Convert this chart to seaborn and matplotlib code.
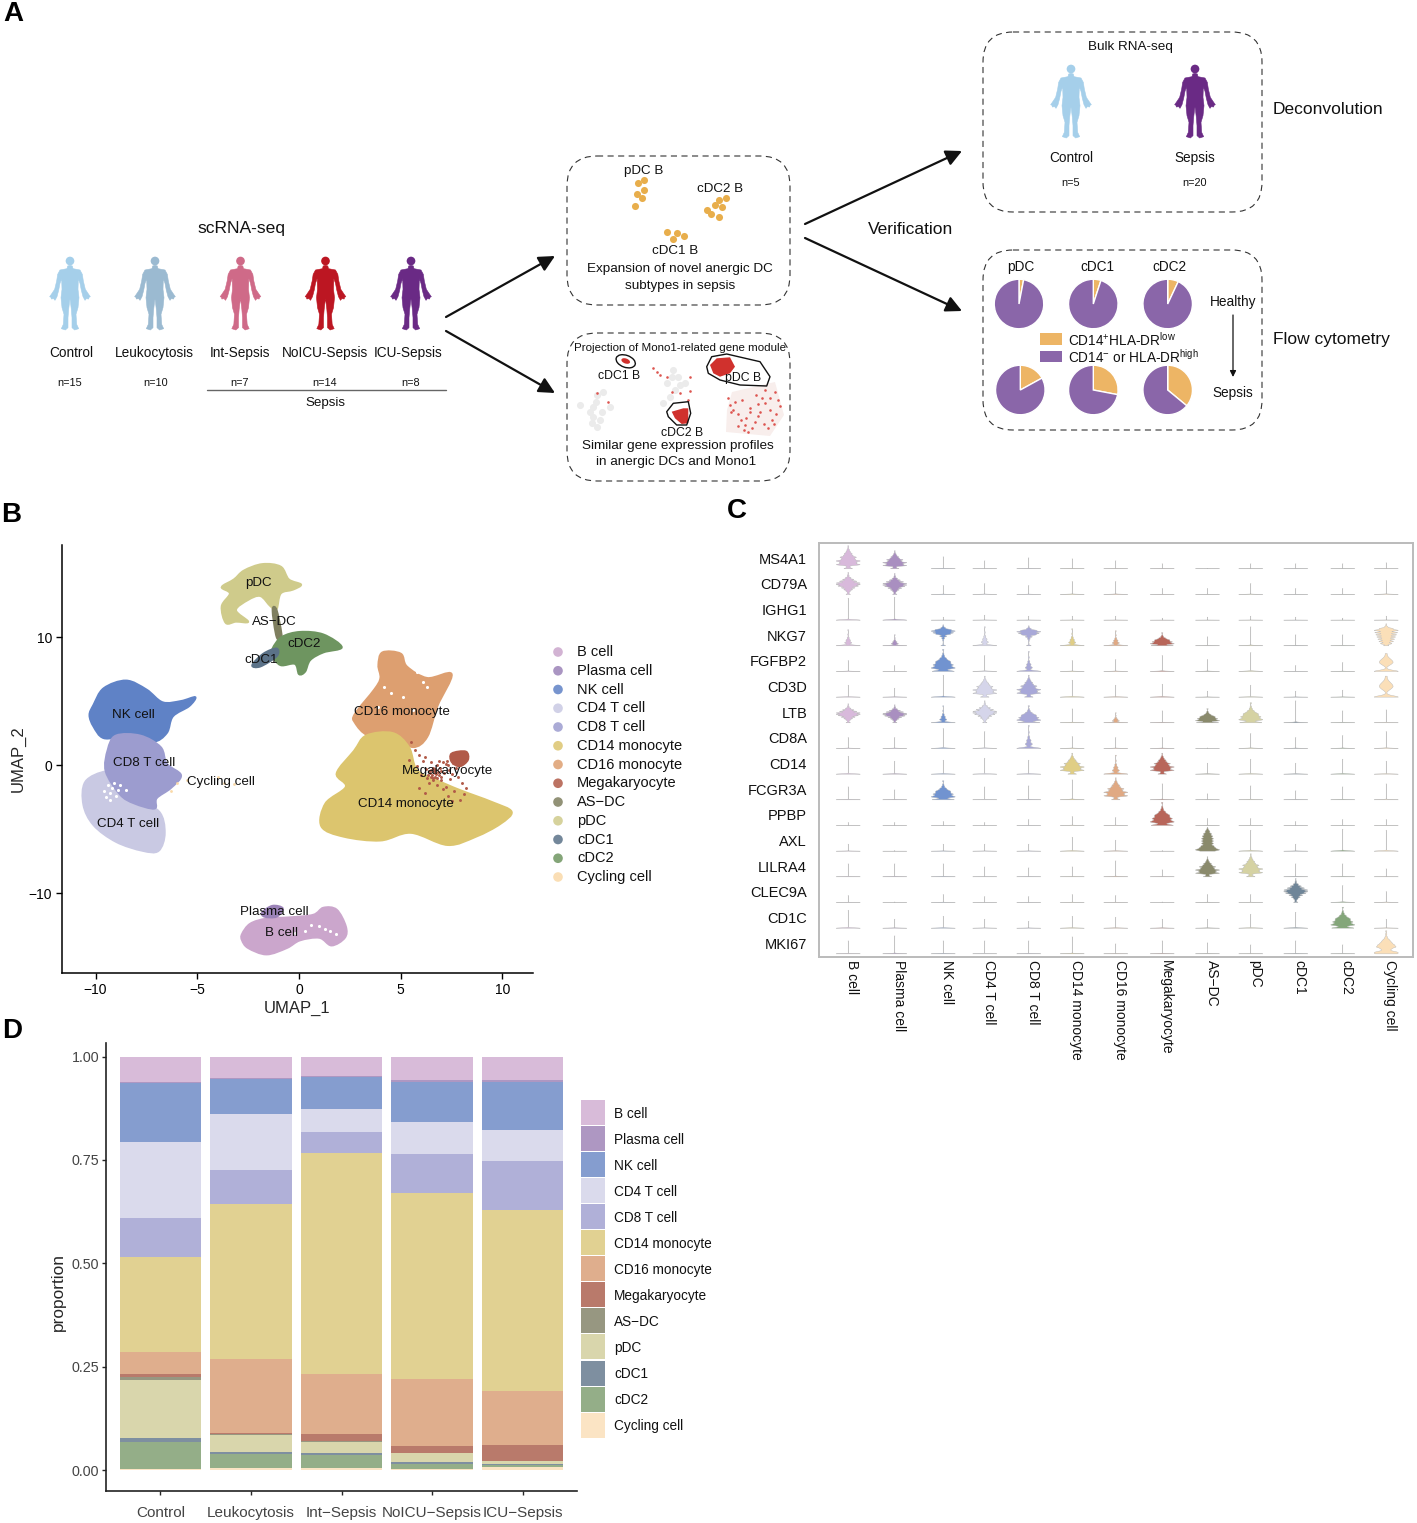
import numpy as np
import pandas as pd
import matplotlib
matplotlib.use("Agg")
import matplotlib.pyplot as plt
from matplotlib.patches import FancyBboxPatch, Polygon, Circle, Ellipse, Rectangle, PathPatch
from matplotlib.path import Path
import seaborn as sns

W, H = 1417, 1523

cell_types = ["B cell", "Plasma cell", "NK cell", "CD4 T cell", "CD8 T cell", "CD14 monocyte", "CD16 monocyte",
              "Megakaryocyte", "AS−DC", "pDC", "cDC1", "cDC2", "Cycling cell"]
umap_colors = ["#CBA6CC", "#9B83B8", "#5F82C6", "#C9C9E3", "#9C9CCF", "#DCC56E", "#DD9F70",
               "#B15A48", "#7F7F5F", "#CFCB8B", "#5B7288", "#6E9560", "#FAD9A8"]
violin_colors = ["#D8B9DB", "#A98FC0", "#7193D0", "#D5D5EA", "#A8A8D8", "#E0CE85", "#E0A983",
                 "#B8665A", "#8A8A6C", "#D5D2A3", "#6F8598", "#84A67A", "#FBDFB8"]
bar_colors = ["#D8BBD9", "#AE97C2", "#859DCF", "#DADAEC", "#B0B0D8", "#E1D192", "#DFAE8D",
              "#B97A6B", "#979781", "#D9D6AC", "#7E8FA0", "#94AE88", "#FBE4C4"]

# panel D, one list per group, same order as cell_types
groups = ["Control", "Leukocytosis", "Int−Sepsis", "NoICU−Sepsis", "ICU−Sepsis"]
prop_control = [.061, .002, .143, .185, .094, .230, .053, .008, .006, .140, .010, .065, .003]
prop_leuko = [.051, .003, .084, .136, .082, .375, .179, .004, .001, .042, .004, .033, .006]
prop_int = [.048, .002, .077, .055, .051, .535, .146, .016, .001, .028, .004, .032, .005]
prop_noicu = [.057, .005, .096, .078, .095, .449, .162, .017, .001, .021, .004, .012, .003]
prop_icu = [.056, .006, .115, .075, .119, .437, .132, .038, .001, .006, .002, .006, .007]

nk_xy = [(-10.1, 4.7), (-9.6, 6.0), (-8.5, 6.6), (-7.5, 5.9), (-6.7, 4.9), (-5.8, 5.0), (-5.1, 5.3), (-5.4, 4.6),
         (-6.2, 3.8), (-6.5, 2.5), (-7.2, 1.8), (-8.5, 2.2), (-9.6, 2.1), (-10.1, 3.0), (-10.3, 3.9)]
cd8_xy = [(-9.4, 1.2), (-9.0, 2.3), (-7.8, 2.3), (-6.8, 1.4), (-6.5, 0.1), (-5.8, -0.8), (-6.3, -1.8), (-7.0, -2.6),
          (-7.1, -3.4), (-8.1, -3.0), (-8.8, -2.3), (-9.5, -0.5)]
cd4_xy = [(-10.5, -1.3), (-9.5, -0.5), (-8.8, -0.9), (-8.2, -2.6), (-6.9, -3.6), (-6.6, -5.3), (-6.9, -6.7),
          (-7.7, -6.7), (-9.0, -6.0), (-10.1, -4.7), (-10.6, -3.1)]
pdc_xy = [(-3.8, 13.9), (-3.2, 14.5), (-2.7, 15.2), (-1.8, 15.7), (-0.9, 15.5), (-0.5, 14.5), (0.1, 14.1), (-0.3, 13.7),
          (-0.9, 13.4), (-1.1, 12.2), (-1.4, 12.4), (-1.9, 13.2), (-2.5, 12.9), (-3.1, 12.1), (-2.5, 11.2), (-3.1, 11.2),
          (-3.6, 11.1), (-3.8, 12.4), (-3.4, 13.4)]
asdc_xy = [(-1.3, 12.1), (-1.1, 12.1), (-0.85, 10.0), (-1.1, 10.0)]
cdc2_xy = [(-1.3, 9.1), (-0.85, 10.0), (0.05, 10.4), (1.2, 10.2), (2.1, 9.2), (1.2, 8.8), (0.55, 8.2), (0.3, 7.3),
           (0.0, 7.1), (-0.2, 7.9), (-0.9, 7.8), (-1.3, 8.5)]
cdc1_xy = [(-2.3, 7.8), (-1.75, 8.7), (-1.1, 9.1), (-1.1, 8.5), (-1.9, 7.7)]
cd16_xy = [(3.9, 7.8), (4.1, 8.8), (5.0, 8.7), (5.3, 7.7), (6.3, 6.8), (7.5, 7.1), (6.8, 4.6), (6.3, 2.2), (5.6, 1.4),
           (4.6, 2.2), (3.4, 2.3), (2.75, 3.3), (2.75, 4.0), (3.7, 5.9), (4.0, 6.8)]
cd14_xy = [(3.3, 2.3), (4.6, 2.5), (5.4, 1.4), (5.8, -0.4), (6.8, -1.2), (7.9, -1.95), (9.5, -2.9), (10.45, -3.65),
           (9.9, -4.6), (8.7, -5.6), (7.3, -6.25), (5.5, -5.3), (4.0, -5.9), (2.2, -5.6), (1.1, -4.8), (1.3, -3.0),
           (2.3, -1.7), (1.85, -0.65), (2.7, 1.1)]
mega_xy = [(7.5, 0.9), (8.2, 1.05), (8.3, 0.4), (7.9, -0.1), (7.5, 0.25)]
bcell_xy = [(-2.8, -13.2), (-2.4, -12.4), (-1.6, -12.0), (-0.45, -11.9), (0.7, -11.7), (1.2, -11.15), (1.85, -11.3),
            (2.3, -12.6), (2.25, -13.5), (1.6, -14.1), (1.0, -13.5), (0.05, -13.7), (-0.6, -14.3), (-1.6, -14.8),
            (-2.5, -14.3), (-2.8, -13.7)]
plasma_xy = [(-1.8, -11.5), (-1.3, -11.0), (-0.8, -11.2), (-1.1, -11.85), (-1.7, -11.85)]

mega_stray_x = [5.5, 5.7, 5.9, 5.4, 5.8, 6.1, 6.0, 6.3, 6.5, 6.7, 6.9, 6.4, 6.6, 6.8, 7.1, 7.3, 7.0, 7.5, 7.7, 7.2,
                6.9, 6.5, 6.2, 7.0, 7.4, 7.8, 8.0, 8.2, 7.6, 7.9, 6.6, 6.8, 7.0, 6.4, 6.7, 7.2, 7.5, 8.1, 5.9, 6.2,
                6.45, 6.55, 6.65, 6.75, 6.85, 6.5, 6.6, 6.7, 6.8, 6.95, 7.1, 7.3, 6.35, 6.25, 7.15, 7.35, 7.55, 7.25]
mega_stray_y = [1.8, 1.2, 0.8, 0.4, -0.1, 0.3, -0.8, -1.0, -0.4, -0.6, -0.8, -1.4, -1.2, -1.6, -1.9, -2.4, -0.5, -0.7,
                -0.2, 0.1, 0.3, 0.2, 0.6, -1.2, -1.1, -0.9, -1.4, -1.8, -2.0, -2.7, -0.2, 0.0, -0.9, -0.5, -0.9, -1.7,
                -2.8, -2.3, -1.8, -2.2,
                -0.6, -0.8, -0.5, -0.7, -0.55, -0.95, -1.0, -0.35, -1.05, -0.25, 0.2, 0.0, -0.75, -0.35, -0.65, -0.4,
                0.15, 0.35]
cycling_x = [-6.3, -6.0, -5.5, -4.0, -3.7, -3.2]
cycling_y = [-2.0, -1.4, -1.2, -0.9, -1.4, -1.5]
gap_x = [-9.6, -9.3, -9.1, -8.9, -9.3, -8.5, -9.0, -9.4, -9.2, -9.5, -8.8, 5.5, 5.8, 6.1, 6.3, 5.1, 4.5, 5.6, 3.9, 4.2,
         1.0, 1.3, 0.6, 1.5, 0.3, -0.2, 1.8]
gap_y = [-2.0, -2.2, -1.4, -1.95, -2.7, -1.95, -2.4, -1.6, -1.8, -2.5, -1.6, 7.7, 7.3, 6.5, 6.1, 5.3, 5.6, 4.3, 4.5, 6.1,
         -12.6, -12.8, -12.5, -13.0, -13.0, -13.1, -13.2]

umap_labels = ["pDC", "AS−DC", "cDC2", "cDC1", "NK cell", "CD8 T cell", "Cycling cell", "CD4 T cell",
               "CD16 monocyte", "Megakaryocyte", "CD14 monocyte", "Plasma cell", "B cell"]
umap_label_x = [-1.97, -1.23, 0.25, -1.87, -8.16, -7.6, -3.83, -8.4, 5.06, 7.32, 5.26, -1.23, -0.88]
umap_label_y = [14.2, 11.2, 9.45, 8.2, 3.9, 0.15, -1.33, -4.6, 4.14, -0.47, -3.05, -11.5, -13.1]

# panel C, spike height per gene and cell type, and which violin shape it has
genes = ["MS4A1", "CD79A", "IGHG1", "NKG7", "FGFBP2", "CD3D", "LTB", "CD8A", "CD14", "FCGR3A", "PPBP", "AXL",
         "LILRA4", "CLEC9A", "CD1C", "MKI67"]
heights = [
    [23, 18, 12, 8, 11, 10, 8, 5, .5, 5, 5, 5, 6],
    [22, 21, 9, 11, 9, 13, 13, 6, 6, 11, 6, 6, 14],
    [22, 23, 3, 5, 4, 4, 4, 2, 3, 4, 3, 2, 4],
    [16, 11, 21, 19, 20, 17, 15, 13, 9, 19, 11, 11, 22],
    [11, 6, 22, 16, 20, 11, 12, 16, 12, 19, 6, 9, 18],
    [12, 9, 22, 21, 22, 17, 12, 13, 6, 12, 6, 7, 21],
    [19, 18, 17, 22, 17, 14, 10, 12, 14, 20, 22, 12, 13],
    [11, 11, 20, 17, 23, 12, 11, 11, .5, 15, 11, 13, 17],
    [18, 13, 14, 16, 14, 21, 19, 21, 11, 15, 11, 15, 13],
    [13, 10, 19, 13, 14, 20, 22, 16, 6, 14, 9, 13, 16],
    [3, 3, 4, 3, 6, 9, 8, 23, 7, 7, 4, 6, 6],
    [7, .5, 7, 7, 7, 14, 11, .5, 24, 21, 7, 22, 21],
    [13, 13, 13, 10, 9, 10, 16, 7, 20, 23, 13, 13, 8],
    [7, .5, 8, 6, 6, 8, 7, .5, 8, 8, 24, 17, 11],
    [18, 9, 12, 9, 7, 12, 11, 9, 9, 14, 16, 21, 9],
    [13, 18, 13, 13, 13, 17, 10, 13, 11, 9, 13, 9, 23],
]
shapes = [
    "TTsssssssssss",
    "DDsssssssssss",
    "sssssssssssss",
    "nnHnHnntssssP",
    "sstsnsssssssd",
    "sssTTsssssssd",
    "DDnDtsnsttsss",
    "ssssnssssssss",
    "sssssTnTsssss",
    "sstsssTssssss",
    "ssssssstsssss",
    "ssssssssBssss",
    "ssssssssTTsss",
    "ssssssssssDss",
    "sssssssssssts",
    "ssssssssssssX",
]
profiles = {
    "s": [(0, 80), (1, 1)],
    "n": [(0, 25), (.14, 3), (.2, 6), (.28, 2), (.35, 4), (.42, 1), (.5, 2), (.7, 1), (1, 1)],
    "t": [(0, 14), (.07, 3), (.15, 14), (.22, 9), (.3, 12), (.38, 8), (.45, 8), (.52, 5), (.6, 4), (.7, 2), (.8, 1), (1, 1)],
    "T": [(0, 10), (.08, 4), (.18, 28), (.26, 20), (.34, 28), (.42, 16), (.5, 19), (.58, 11), (.66, 9), (.74, 5), (.82, 3),
          (.9, 1), (1, 1)],
    "D": [(0, 7), (.08, 3), (.15, 7), (.22, 14), (.3, 22), (.38, 32), (.45, 38), (.52, 38), (.6, 28), (.68, 18), (.76, 9),
          (.85, 3), (.92, 1), (1, 1)],
    "H": [(0, 8), (.12, 1), (.25, 2), (.35, 5), (.45, 12), (.55, 24), (.62, 34), (.7, 40), (.77, 26), (.85, 8), (.92, 2), (1, 1)],
    "P": [(0, 10), (.1, 22), (.2, 28), (.3, 32), (.4, 36), (.5, 40), (.6, 44), (.7, 46), (.78, 26), (.86, 6), (.93, 1), (1, 1)],
    "B": [(0, 16), (.06, 36), (.14, 24), (.22, 20), (.32, 20), (.42, 20), (.52, 20), (.62, 18), (.72, 14), (.82, 8), (.9, 3), (1, 1)],
    "X": [(0, 14), (.07, 14), (.14, 5), (.22, 7), (.3, 13), (.38, 11), (.46, 8), (.54, 6), (.62, 4), (.72, 2), (.85, 1), (1, 1)],
    "d": [(0, 16), (.1, 2), (.3, 2), (.4, 5), (.5, 7), (.6, 6), (.7, 4), (.8, 2), (.9, 1), (1, 1)],
}

# panel A
pie_labels = ["pDC", "cDC1", "cDC2"]
pie_healthy = [.03, .05, .07]
pie_sepsis = [.17, .28, .36]
dc_pdc_x = [644, 638.3, 644, 636.7, 642, 634.7]
dc_pdc_y = [180, 182.7, 190, 194.3, 198.3, 206]
dc_cdc2_x = [726, 718.7, 715, 722.3, 707.3, 711.3, 718.7]
dc_cdc2_y = [198.3, 200, 205, 207.3, 210, 214.3, 216.7]
dc_cdc1_x = [667.3, 676.7, 684, 673]
dc_cdc1_y = [232.3, 233.3, 236, 239.3]
proj_grey_x = [580, 593, 593, 592, 597, 600, 610, 603, 597, 590, 596, 602, 673, 667, 675, 670, 663, 678, 685, 672, 680]
proj_grey_y = [405, 407, 417, 423, 427, 420, 407, 392, 395, 412, 402, 412, 370, 383, 390, 397, 403, 377, 383, 377, 385]
proj_red_x = [730, 733, 738, 742, 746, 750, 755, 760, 765, 770, 775, 778, 745, 752, 758, 764, 770, 776, 735, 741, 748,
              756, 762, 768, 774, 780, 738, 744, 750, 772, 765, 758, 728, 731, 657, 660, 667, 672, 680, 690, 597, 608,
              653, 690, 688]
proj_red_y = [405, 410, 414, 400, 418, 408, 422, 412, 403, 398, 392, 400, 425, 428, 416, 424, 410, 414, 402, 420, 432,
              395, 398, 428, 424, 406, 426, 430, 412, 420, 390, 404, 398, 412, 372, 375, 377, 392, 393, 377, 393, 402,
              368, 391, 400]

sns.set_theme(style="ticks")
plt.rcParams["font.family"] = ["Liberation Sans", "DejaVu Sans"]
plt.rcParams["mathtext.default"] = "regular"
plt.rcParams["mathtext.fontset"] = "custom"
plt.rcParams["mathtext.rm"] = "Liberation Sans"

fig = plt.figure(figsize=(W / 100, H / 100), dpi=100, facecolor="white")


def px_ax(left, top, right, bottom, **kwargs):
    return fig.add_axes([left / W, 1 - bottom / H, (right - left) / W, (bottom - top) / H], **kwargs)


# whole-figure layer in pixels for the schematic and the loose text
art = px_ax(0, 0, W, H, zorder=5)
art.set_xlim(0, W)
art.set_ylim(H, 0)
art.axis("off")
art.patch.set_alpha(0)


def person(cx, top, color, scale=1 / 3):
    side = [(0, 28), (7, 30), (9, 38), (30, 42), (37, 55), (40, 75), (46, 100), (56, 115), (61, 122), (57, 124),
            (56, 129), (49, 128), (45, 133), (39, 122), (34, 103), (30, 82), (25, 68), (24, 100), (27, 125), (24, 155),
            (18, 175), (20, 205), (26, 218), (14, 222), (6, 215), (6, 185), (4, 160), (1, 135), (0, 130)]
    right = [(cx + a * scale, top + b * scale) for a, b in side]
    left = [(cx - a * scale, top + b * scale) for a, b in reversed(side)]
    art.add_patch(Polygon(right + left, closed=True, fc=color, ec=color, lw=0.4, joinstyle="round"))
    art.add_patch(Circle((cx, top + 15 * scale), 13 * scale, fc=color, ec="none"))


def box(left, top, right, bottom):
    art.add_patch(FancyBboxPatch((left + 30, top + 30), right - left - 60, bottom - top - 60,
                                 boxstyle="round,pad=30,rounding_size=30", fc="none", ec="#333333",
                                 lw=0.8, ls=(0, (5.5, 4))))


def label(x, y, s, size=9.8, **kwargs):
    kwargs.setdefault("ha", "center")
    kwargs.setdefault("va", "center")
    art.text(x, y + 1, s, fontsize=size, color=kwargs.pop("color", "#111111"), **kwargs)


def arrow(x0, y0, x1, y1, lw=1.6, scale=24):
    art.annotate("", xy=(x1, y1), xytext=(x0, y0),
                 arrowprops=dict(arrowstyle="-|>", lw=lw, color="#111111", mutation_scale=scale,
                                 shrinkA=0, shrinkB=0))


def blob(ax, outline, color):
    # closed smooth curve going through the outline points
    pts = np.array(outline)
    before, after = np.roll(pts, 1, axis=0), np.roll(pts, -1, axis=0)
    ctrl_out = pts + (after - before) / 6
    ctrl_in = pts - (after - before) / 6
    verts = [pts[0]]
    codes = [Path.MOVETO]
    for i in range(len(pts)):
        j = (i + 1) % len(pts)
        verts += [ctrl_out[i], ctrl_in[j], pts[j]]
        codes += [Path.CURVE4] * 3
    ax.add_patch(PathPatch(Path(verts, codes), fc=color, ec=color, lw=1.4))


# ---- panel A
for s, x, y in [("A", 13, 13), ("B", 11, 514), ("C", 737, 510), ("D", 12, 1030)]:
    label(x, y, s, size=20, fontweight="bold", color="black")

people = [(70, "#A5CFEA", "Control", 71, "n=15", 70), (155, "#9BBAD1", "Leukocytosis", 154, "n=10", 156),
          (240.5, "#CF6A88", "Int-Sepsis", 240, "n=7", 240), (325.5, "#BC1622", "NoICU-Sepsis", 325, "n=14", 325),
          (411, "#6A2A85", "ICU-Sepsis", 408, "n=8", 411)]
for cx, color, name, name_x, n, n_x in people:
    person(cx, 256, color)
    label(name_x, 352, name, size=9.8)
    label(n_x, 382, n, size=7.8)
label(241, 227, "scRNA-seq", size=12.6)
art.plot([207, 446], [390, 390], color="#666666", lw=1)
label(325, 402, "Sepsis", size=9.6)

arrow(446, 317, 555, 256)
arrow(446, 331, 555, 393)
arrow(805, 224, 962, 151)
arrow(805, 238, 962, 311)
label(911, 228, "Verification", size=12.5)

box(567, 156, 790, 305)
for xs, ys in [(dc_pdc_x, dc_pdc_y), (dc_cdc2_x, dc_cdc2_y), (dc_cdc1_x, dc_cdc1_y)]:
    sns.scatterplot(x=xs, y=ys, color="#E8AE4C", s=26, linewidth=0, ax=art, legend=False)
label(643.5, 170, "pDC B", size=9.6)
label(720, 188, "cDC2 B", size=9.6)
label(675, 250, "cDC1 B", size=9.6)
label(680, 268, "Expansion of novel anergic DC", size=9.7)
label(680, 285, "subtypes in sepsis", size=9.7)

box(567, 333, 790, 481)
label(680, 347, "Projection of Mono1-related gene module", size=8.25)
art.add_patch(Polygon([(732, 392), (775, 382), (784, 415), (770, 436), (726, 432), (727, 410)], fc="#F8EEEC", ec="none"))
sns.scatterplot(x=proj_grey_x, y=proj_grey_y, color="#EBEBEB", s=26, linewidth=0, ax=art, legend=False)
sns.scatterplot(x=proj_red_x, y=proj_red_y, color="#DD5550", s=3.5, linewidth=0, ax=art, legend=False)
art.add_patch(Polygon([(710, 365), (716.7, 358.3), (730, 357.3), (735, 366.7), (730, 373.3), (720, 376.7), (713.3, 373.3)],
                      fc="#D0312D", ec="none"))
art.add_patch(Polygon([(671.7, 411.7), (683.3, 408.3), (688.3, 408.3), (688.3, 423.3), (681.7, 424), (675, 418.3)],
                      fc="#D0312D", ec="none"))
art.add_patch(Polygon([(706.7, 366.7), (711.7, 356.7), (726.7, 354), (760, 361.7), (770, 376.7), (766.7, 386), (740, 385),
                       (720, 380), (708.3, 373.3)], fc="none", ec="#111111", lw=1, joinstyle="round"))
art.add_patch(Polygon([(666.7, 411.7), (673.3, 403.3), (688.3, 401.7), (690.7, 413.3), (686.7, 425), (676.7, 425),
                       (668.3, 416.7)], fc="none", ec="#111111", lw=1, joinstyle="round"))
art.add_patch(Ellipse((625.7, 361.3), 20, 12, angle=20, fc="none", ec="#111111", lw=1))
art.add_patch(Ellipse((625.7, 361), 9, 5, angle=20, fc="#D0312D", ec="none"))
label(619, 375, "cDC1 B", size=8.8)
label(743, 377, "pDC B", size=8.8)
label(682, 432, "cDC2 B", size=8.8)
label(678, 445, "Similar gene expression profiles", size=9.7)
label(676, 461, "in anergic DCs and Mono1", size=9.7)

box(983, 32, 1262, 212)
label(1130, 46, "Bulk RNA-seq", size=9.7)
person(1071, 64, "#A5CFEA")
person(1195, 64, "#6A2A85")
label(1071, 157, "Control", size=9.8)
label(1195, 157, "Sepsis", size=9.8)
label(1071, 182, "n=5", size=7.8)
label(1195, 182, "n=20", size=7.8)
label(1328, 108, "Deconvolution", size=12.5)

box(983, 250, 1262, 430)
for name, x in zip(pie_labels, [1021, 1097, 1169]):
    label(x, 266, name, size=9.8)
pie_colors = ["#EDB565", "#8A66A9"]
for frac, cx in zip(pie_healthy, [1019, 1093.3, 1167.7]):
    pax = px_ax(cx - 25, 279, cx + 25, 329, zorder=6)
    pax.pie([frac, 1 - frac], colors=pie_colors, startangle=90, counterclock=False)
    pax.set_xlim(-1.01, 1.01)
    pax.set_ylim(-1.01, 1.01)
for frac, cx in zip(pie_sepsis, [1020.3, 1093.3, 1167.7]):
    pax = px_ax(cx - 25, 365, cx + 25, 415, zorder=6)
    pax.pie([frac, 1 - frac], colors=pie_colors, startangle=90, counterclock=False)
    pax.set_xlim(-1.01, 1.01)
    pax.set_ylim(-1.01, 1.01)
art.add_patch(Rectangle((1040, 333.3), 21.7, 11.7, fc=pie_colors[0], ec="none"))
art.add_patch(Rectangle((1040, 350.7), 21.7, 11.3, fc=pie_colors[1], ec="none"))
label(1068, 339, "CD14$^{+}$HLA-DR$^{low}$", size=9.8, ha="left")
label(1068, 356, "CD14$^{-}$ or HLA-DR$^{high}$", size=9.8, ha="left")
label(1233, 301, "Healthy", size=9.8)
label(1233, 392, "Sepsis", size=9.8)
arrow(1233, 315, 1233, 377, lw=0.9, scale=9)
label(1331, 338, "Flow cytometry", size=12.5)

# ---- panel B
umap = px_ax(62, 545, 533, 973)
umap.set_xlim(-11.65, 11.5)
umap.set_ylim(-16.25, 17.19)
draw_order = [(cd4_xy, 3), (nk_xy, 2), (cd8_xy, 4), (pdc_xy, 9), (asdc_xy, 8), (cdc2_xy, 11), (cdc1_xy, 10),
              (cd16_xy, 6), (cd14_xy, 5), (mega_xy, 7), (bcell_xy, 0), (plasma_xy, 1)]
for outline, idx in draw_order:
    blob(umap, outline, umap_colors[idx])
sns.scatterplot(x=gap_x, y=gap_y, color="white", s=5, linewidth=0, ax=umap, legend=False)
sns.scatterplot(x=mega_stray_x, y=mega_stray_y, color=umap_colors[7], s=4.5, linewidth=0, ax=umap, legend=False)
sns.scatterplot(x=cycling_x, y=cycling_y, color=umap_colors[12], s=4, linewidth=0, ax=umap, legend=False)
for s, x, y in zip(umap_labels, umap_label_x, umap_label_y):
    umap.text(x, y, s, ha="center", va="center", fontsize=9.6, color="#111111", zorder=10)
umap.set_xticks([-10, -5, 0, 5, 10])
umap.set_xticklabels(["−10", "−5", "0", "5", "10"])
umap.set_yticks([-10, 0, 10])
umap.set_yticklabels(["−10", "0", "10"])
umap.tick_params(labelsize=10, length=4, width=1, colors="black", pad=3)
umap.set_xlabel("UMAP_1", fontsize=12, labelpad=3)
umap.set_ylabel("UMAP_2", fontsize=12, labelpad=2)
umap.set(facecolor="none")
sns.despine(ax=umap)
for side in ["left", "bottom"]:
    umap.spines[side].set_linewidth(1.1)
    umap.spines[side].set_color("black")

sns.scatterplot(x=[558] * 13, y=[652 + 18.75 * i for i in range(13)], hue=cell_types, hue_order=cell_types,
                palette=dict(zip(cell_types, umap_colors)), s=48, linewidth=0, ax=art, legend=False, alpha=.85)
art.set_xlim(0, W)
art.set_ylim(H, 0)
for i, s in enumerate(cell_types):
    label(577, 651 + 18.75 * i, s, size=10.5, ha="left")

# ---- panel C
col_x = [847.7, 894.3, 942.7, 984.3, 1028.3, 1071.7, 1115.3, 1161.7, 1207, 1250.3, 1295.3, 1342.3, 1385.7]
frame = px_ax(819, 542.7, 1413, 956.7)
frame.set_xlim(819, 1413)
frame.set_ylim(956.7, 542.7)
frame.set_xticks([c + 4.5 for c in col_x])
frame.set_xticklabels(cell_types, rotation=-90, fontsize=10, color="#111111", ha="center", va="top")
frame.set_yticks([558 + 25.67 * i for i in range(16)])
frame.set_yticklabels(genes, fontsize=10.5, color="#111111")
frame.tick_params(length=0, axis="y", pad=8.6)
frame.tick_params(length=0, axis="x", pad=2.5)
for sp in frame.spines.values():
    sp.set_color("#BBBBBB")
    sp.set_linewidth(1.4)

for r, gene in enumerate(genes):
    rows = []
    for c, cell in enumerate(cell_types):
        for level, count in profiles[shapes[r][c]]:
            rows += [(col_x[c], cell, level * heights[r][c])] * count
    df = pd.DataFrame(rows, columns=["pos", "cell", "value"])
    base = 568.3 + 25.67 * r
    vax = px_ax(819, base - 25.67, 1413, base + 1, zorder=3)
    vax.patch.set_alpha(0)
    sns.violinplot(data=df, x="pos", y="value", hue="cell", hue_order=cell_types,
                   palette=dict(zip(cell_types, violin_colors)), native_scale=True, dodge=False, density_norm="width",
                   cut=0, inner=None, linewidth=0.3, linecolor="#B8B8B8", saturation=1, width=24 / 41.6,
                   bw_adjust=.4, legend=False, ax=vax)
    vax.set_xlim(819, 1413)
    vax.set_ylim(-1, 25.67)
    vax.axis("off")

# ---- panel D
stack = px_ax(106, 1043, 577, 1490.7)
props = np.array([prop_control, prop_leuko, prop_int, prop_noicu, prop_icu])
tops = 1 - np.hstack([np.zeros((5, 1)), np.cumsum(props, axis=1)[:, :-1]])
for i, cell in enumerate(cell_types):
    sns.barplot(x=groups, y=props[:, i], bottom=tops[:, i] - props[:, i], order=groups, color=bar_colors[i],
                width=.9, saturation=1, linewidth=0, ax=stack)
stack.set_xlim(-.6, 4.6)
stack.set_ylim(-.05, 1.033)
stack.set_yticks([0, .25, .5, .75, 1])
stack.set_yticklabels(["0.00", "0.25", "0.50", "0.75", "1.00"])
stack.tick_params(axis="y", labelsize=10.3, length=3.2, width=1, labelcolor="#444444", pad=1.5)
stack.tick_params(axis="x", labelsize=11, length=3.2, width=1, labelcolor="#444444", pad=8)
stack.set_ylabel("proportion", fontsize=12.4, labelpad=4, y=.444)
stack.set_xlabel("")
sns.despine(ax=stack)
for side in ["left", "bottom"]:
    stack.spines[side].set_linewidth(1.2)
    stack.spines[side].set_color("#222222")

for i, s in enumerate(cell_types):
    art.add_patch(Rectangle((581, 1100 + 26.05 * i), 24, 25, fc=bar_colors[i], ec="none"))
    label(614, 1112.5 + 26.05 * i, s, size=9.8, ha="left")

fig.savefig("out.png", dpi=100)
